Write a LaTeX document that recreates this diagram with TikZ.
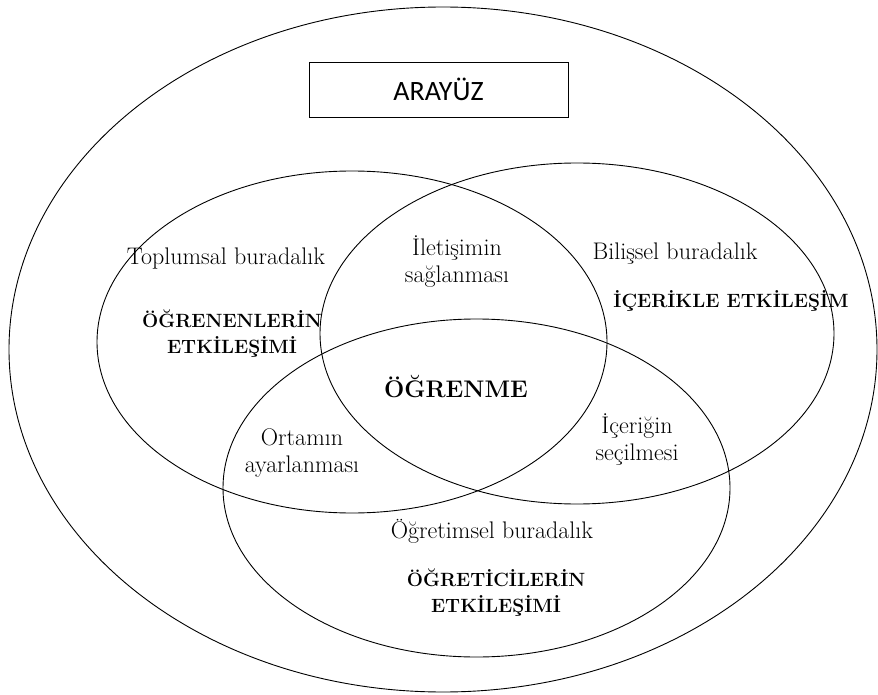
\documentclass[tikz,border=0pt]{standalone}
\usepackage{fontspec}
\newfontfamily\calibri{Carlito}
\begin{document}
\begin{tikzpicture}[x=1pt, y=-1pt, line width=0.9pt,
  reg/.style={font=\fontsize{24}{27}\selectfont, align=center, anchor=base},
  bld/.style={font=\fontsize{19.2}{26}\selectfont\bfseries, align=center, anchor=base}]
  \useasboundingbox (0,0) rectangle (878,695);
  % the four ellipses
  \draw (443,349.5) ellipse [x radius=434, y radius=342.5];
  \draw (352,342) ellipse [x radius=255, y radius=171];
  \draw (577,333.5) ellipse [x radius=257, y radius=170.5];
  \draw (476.5,488) ellipse [x radius=253.5, y radius=169];
  \node[draw, minimum width=259, minimum height=55,
        font=\calibri\fontsize{28}{30}\selectfont] (arayuz) at (438.5,89.5) {ARAYÜZ};
  % left
  \node[reg] (toplumsal) at (226,265) {Toplumsal buradalık};
  \node[bld] (ogrenen) at (232,353) {ÖĞRENENLERİN\\ETKİLEŞİMİ};
  % right
  \node[reg] (bilissel) at (675,259) {Bilişsel buradalık};
  \node[bld] (icerik) at (731,307) {İÇERİKLE ETKİLEŞİM};
  % bottom
  \node[reg] (ogretimsel) at (492,538) {Öğretimsel buradalık};
  \node[bld] (ogretici) at (496,612) {ÖĞRETİCİLERİN\\ETKİLEŞİMİ};
  % overlaps
  \node[reg] (iletisim) at (457,282) {İletişimin\\sağlanması};
  \node[reg] (ortam) at (302,472) {Ortamın\\ayarlanması};
  \node[reg] (secim) at (637,460) {İçeriğin\\seçilmesi};
  \node[font=\fontsize{24}{27}\selectfont\bfseries, anchor=base] (ogrenme) at (456,397) {ÖĞRENME};
\end{tikzpicture}
\end{document}
